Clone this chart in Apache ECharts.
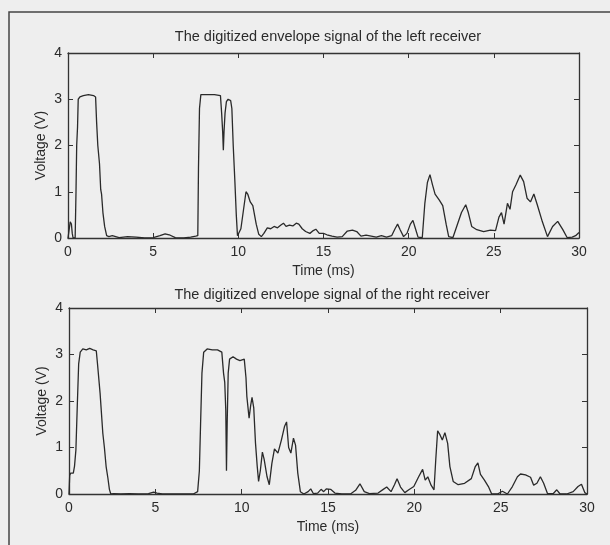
<!DOCTYPE html>
<html>
<head>
<meta charset="utf-8">
<script src="https://cdn.jsdelivr.net/npm/echarts@6/dist/echarts.min.js"></script>
<style>
  html, body { margin: 0; padding: 0; background: #eeeeee; }
  #chart { width: 610px; height: 545px; }
</style>
</head>
<body>
<div id="chart"></div>
<script>
// Envelope of the left receiver: time (ms) and voltage (V)
const leftTime = [0, 0.08, 0.13, 0.2, 0.25, 0.3, 0.42, 0.47, 0.51, 0.56, 0.6, 0.7, 0.9, 1.2, 1.5, 1.62, 1.68, 1.75, 1.85, 1.92, 1.97, 2.05, 2.15, 2.27, 2.4, 2.6, 3.0, 3.5, 4.0, 4.5, 5.0, 5.4, 5.7, 6.0, 6.3, 6.8, 7.2, 7.5, 7.62, 7.66, 7.72, 7.8, 8.2, 8.6, 8.95, 9.02, 9.08, 9.12, 9.16, 9.22, 9.3, 9.4, 9.55, 9.62, 9.7, 9.8, 9.88, 9.95, 10.05, 10.15, 10.3, 10.45, 10.55, 10.7, 10.85, 10.95, 11.05, 11.2, 11.35, 11.5, 11.7, 11.9, 12.1, 12.3, 12.5, 12.65, 12.8, 13.0, 13.2, 13.4, 13.55, 13.75, 13.95, 14.2, 14.4, 14.55, 14.75, 15.0, 15.2, 15.5, 15.8, 16.1, 16.4, 16.7, 16.95, 17.2, 17.5, 17.8, 18.1, 18.4, 18.7, 19.0, 19.2, 19.35, 19.5, 19.7, 19.9, 20.1, 20.25, 20.4, 20.55, 20.8, 20.95, 21.1, 21.25, 21.4, 21.55, 21.8, 22.0, 22.2, 22.35, 22.6, 22.85, 23.1, 23.35, 23.5, 23.7, 24.0, 24.4, 24.8, 25.1, 25.3, 25.45, 25.6, 25.8, 25.95, 26.1, 26.3, 26.55, 26.75, 26.95, 27.15, 27.35, 27.55, 27.85, 28.15, 28.45, 28.75, 29.05, 29.3, 29.6, 29.8, 30.0];
const leftVolt = [0, 0.02, 0.35, 0.3, 0.1, 0, 0, 1.0, 2.0, 2.4, 3.0, 3.05, 3.08, 3.1, 3.08, 3.05, 2.5, 2.0, 1.6, 1.05, 0.95, 0.55, 0.25, 0.05, 0.03, 0.05, 0.01, 0.03, 0.02, 0.0, 0.01, 0.05, 0.09, 0.06, 0.01, 0.0, 0.02, 0.04, 0.05, 1.5, 2.8, 3.1, 3.1, 3.1, 3.08, 2.7, 2.3, 1.9, 2.3, 2.7, 2.95, 3.0, 2.97, 2.8, 2.0, 1.2, 0.5, 0.05, 0.02, 0.2, 0.6, 1.0, 0.95, 0.78, 0.7, 0.68, 0.3, 0.08, 0.03, 0.1, 0.22, 0.2, 0.25, 0.22, 0.28, 0.32, 0.25, 0.28, 0.26, 0.32, 0.3, 0.2, 0.14, 0.1, 0.16, 0.19, 0.1, 0.1, 0.07, 0.04, 0.02, 0.03, 0.15, 0.17, 0.14, 0.04, 0.06, 0.04, 0.02, 0.05, 0.02, 0.05, 0.2, 0.3, 0.18, 0.03, 0.1, 0.3, 0.38, 0.2, 0.02, 0.01, 0.75, 1.2, 1.37, 1.15, 0.95, 0.82, 0.7, 0.3, 0.03, 0.01, 0.28, 0.55, 0.72, 0.55, 0.25, 0.18, 0.14, 0.17, 0.16, 0.45, 0.55, 0.3, 0.75, 0.62, 1.0, 1.15, 1.36, 1.22, 0.86, 0.78, 0.95, 0.72, 0.35, 0.03, 0.25, 0.36, 0.18, 0.01, 0.02, 0.05, 0.12];

// Envelope of the right receiver: time (ms) and voltage (V)
const rightTime = [0, 0.04, 0.1, 0.25, 0.32, 0.4, 0.48, 0.56, 0.65, 0.8, 1.0, 1.2, 1.4, 1.58, 1.65, 1.8, 1.96, 2.05, 2.15, 2.25, 2.34, 2.42, 2.6, 3.0, 3.5, 4.0, 4.6, 4.9, 5.1, 5.4, 6.0, 6.6, 7.2, 7.45, 7.55, 7.62, 7.7, 7.8, 8.0, 8.3, 8.6, 8.85, 8.95, 9.02, 9.08, 9.12, 9.16, 9.22, 9.3, 9.5, 9.7, 9.9, 10.15, 10.25, 10.3, 10.43, 10.52, 10.6, 10.7, 10.8, 10.9, 10.98, 11.08, 11.2, 11.3, 11.47, 11.6, 11.75, 11.9, 12.1, 12.3, 12.48, 12.6, 12.72, 12.85, 13.0, 13.12, 13.25, 13.4, 13.6, 13.85, 14.0, 14.15, 14.4, 14.6, 14.75, 14.9, 15.15, 15.4, 15.8, 16.3, 16.6, 16.85, 17.1, 17.4, 17.9, 18.2, 18.4, 18.65, 18.85, 19.0, 19.2, 19.45, 19.68, 19.97, 20.25, 20.48, 20.63, 20.78, 20.97, 21.14, 21.24, 21.35, 21.49, 21.62, 21.77, 21.93, 22.06, 22.25, 22.54, 22.91, 23.3, 23.53, 23.68, 23.83, 24.06, 24.29, 24.48, 24.82, 25.1, 25.39, 25.68, 25.97, 26.15, 26.44, 26.73, 26.91, 27.1, 27.3, 27.49, 27.71, 28.05, 28.25, 28.44, 28.82, 29.2, 29.48, 29.68, 29.87, 30.0];
const rightVolt = [0, 0.4, 0.45, 0.45, 0.6, 0.95, 1.9, 2.8, 3.05, 3.12, 3.1, 3.13, 3.1, 3.08, 2.8, 2.17, 1.3, 1.0, 0.59, 0.35, 0.1, 0.0, 0.01, 0.0, 0.01, 0.0, 0.01, 0.04, 0.02, 0.0, 0.0, 0.0, 0.0, 0.05, 0.5, 1.5, 2.6, 3.05, 3.12, 3.1, 3.1, 3.05, 2.6, 2.4, 1.8, 0.5, 1.5, 2.6, 2.9, 2.95, 2.9, 2.87, 2.9, 2.5, 2.1, 1.63, 1.9, 2.08, 1.85, 1.1, 0.6, 0.27, 0.5, 0.9, 0.75, 0.37, 0.2, 0.66, 0.97, 0.88, 1.16, 1.45, 1.55, 1.0, 0.88, 1.2, 1.05, 0.45, 0.05, 0.0, 0.05, 0.11, 0.01, 0.02, 0.1, 0.05, 0.11, 0.1, 0.02, 0.0, 0.0, 0.08, 0.22, 0.05, 0.01, 0.02, 0.1, 0.15, 0.05, 0.2, 0.33, 0.15, 0.03, 0.09, 0.16, 0.37, 0.53, 0.3, 0.37, 0.19, 0.09, 0.73, 1.36, 1.27, 1.16, 1.32, 1.09, 0.59, 0.27, 0.2, 0.23, 0.33, 0.59, 0.67, 0.42, 0.3, 0.16, 0.0, 0.0, 0.06, 0.0, 0.16, 0.37, 0.43, 0.41, 0.36, 0.19, 0.23, 0.37, 0.23, 0.01, 0.01, 0.09, 0.0, 0.0, 0.05, 0.16, 0.21, 0.03, 0.0];

const panelTitles = ['The digitized envelope signal of the left receiver', 'The digitized envelope signal of the right receiver'];
const xName = 'Time (ms)';
const yName = 'Voltage (V)';

const FONT = 'Liberation Sans, Arial, sans-serif';
const INK = '#2b2b2b';

function pairs(t, v) { return t.map((x, i) => [x, v[i]]); }

const grids = [
  { left: 68, top: 53, width: 511, height: 185 },
  { left: 69, top: 308, width: 518, height: 186 }
];

const lineOn = { show: true, onZero: false, lineStyle: { color: '#333', width: 1.3 } };
const tickIn = { show: true, inside: true, length: 5, lineStyle: { color: '#333', width: 1 } };

const xAxes = [];
const yAxes = [];
grids.forEach((g, gi) => {
  // main axes with labels
  xAxes.push({
    type: 'value', gridIndex: gi, min: 0, max: 30, interval: 5, position: 'bottom',
    name: xName, nameLocation: 'middle', nameGap: 26, nameMoveOverlap: false,
    nameTextStyle: { color: INK, fontFamily: FONT, fontSize: 14 },
    axisLine: lineOn, axisTick: tickIn,
    axisLabel: { color: INK, fontFamily: FONT, fontSize: 14, margin: 7 },
    splitLine: { show: false }
  });
  yAxes.push({
    type: 'value', gridIndex: gi, min: 0, max: 4, interval: 1, position: 'left',
    name: yName, nameLocation: 'middle', nameGap: 20, nameRotate: 90, nameMoveOverlap: false,
    nameTextStyle: { color: INK, fontFamily: FONT, fontSize: 14 },
    axisLine: lineOn, axisTick: tickIn,
    axisLabel: { color: INK, fontFamily: FONT, fontSize: 14, margin: 6 },
    splitLine: { show: false }
  });
});
grids.forEach((g, gi) => {
  // mirrored box axes on top and right
  xAxes.push({
    type: 'value', gridIndex: gi, min: 0, max: 30, interval: 5, position: 'top',
    axisLine: lineOn, axisTick: tickIn,
    axisLabel: { show: false }, splitLine: { show: false }
  });
  yAxes.push({
    type: 'value', gridIndex: gi, min: 0, max: 4, interval: 1, position: 'right',
    axisLine: lineOn, axisTick: tickIn,
    axisLabel: { show: false }, splitLine: { show: false }
  });
});

const chart = echarts.init(document.getElementById('chart'), null, { renderer: 'canvas' });
chart.setOption({
  backgroundColor: '#eeeeee',
  animation: false,
  title: [
    { text: panelTitles[0], left: 323, top: 24, textAlign: 'center',
      textStyle: { color: INK, fontFamily: FONT, fontSize: 14.5, fontWeight: 'normal' } },
    { text: panelTitles[1], left: 327, top: 282, textAlign: 'center',
      textStyle: { color: INK, fontFamily: FONT, fontSize: 14.5, fontWeight: 'normal' } }
  ],
  graphic: [
    { type: 'polyline', shape: { points: [[9, 545], [9, 12], [610, 12]] },
      style: { stroke: '#444', lineWidth: 1.5, fill: null } }
  ],
  grid: grids.map(g => Object.assign({ containLabel: false }, g)),
  xAxis: xAxes,
  yAxis: yAxes,
  series: [
    { type: 'line', xAxisIndex: 0, yAxisIndex: 0, data: pairs(leftTime, leftVolt),
      showSymbol: false, lineStyle: { color: '#2a2a2a', width: 1.3 } },
    { type: 'line', xAxisIndex: 1, yAxisIndex: 1, data: pairs(rightTime, rightVolt),
      showSymbol: false, lineStyle: { color: '#2a2a2a', width: 1.3 } }
  ]
});
</script>
</body>
</html>
